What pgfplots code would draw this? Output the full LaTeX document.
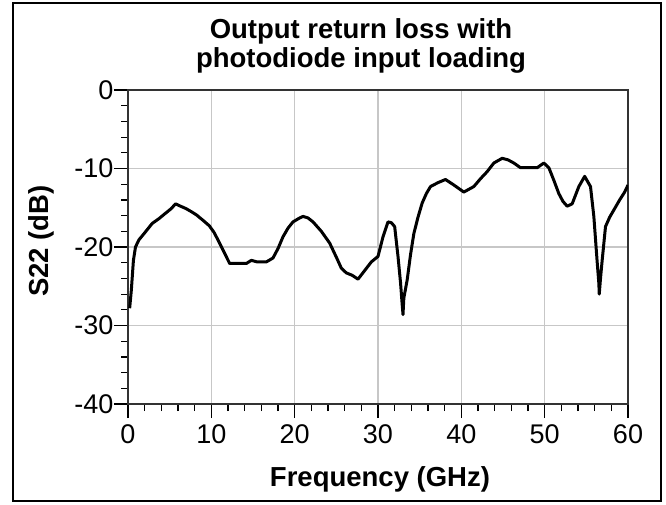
\documentclass[border=0pt]{standalone}
\usepackage{fontspec}
\setmainfont{Liberation Sans}
\usepackage{pgfplots}
\pgfplotsset{compat=1.18}

\pgfplotstableread{
f s22
0.2 -27.8
0.4 -25.5
0.65 -21.7
0.9 -20.0
1.3 -19.1
2.0 -18.2
2.9 -17.0
3.7 -16.4
4.5 -15.7
5.2 -15.1
5.7 -14.5
6.3 -14.8
6.95 -15.1
7.6 -15.5
8.2 -15.9
9.0 -16.6
9.76 -17.3
10.3 -18.1
10.8 -19.1
11.5 -20.6
12.2 -22.1
13.2 -22.1
14.2 -22.1
14.8 -21.7
15.5 -21.9
16.6 -21.9
17.4 -21.4
18.0 -20.2
18.6 -18.7
19.2 -17.6
19.8 -16.8
20.6 -16.3
21.0 -16.1
21.6 -16.3
22.2 -16.8
23.2 -18.0
24.2 -19.5
25.0 -21.3
25.6 -22.7
26.2 -23.3
26.9 -23.6
27.6 -24.1
28.4 -23.0
29.2 -21.9
30.0 -21.2
30.6 -18.7
31.2 -16.8
31.6 -16.9
32.0 -17.4
32.4 -21.2
32.7 -24.5
32.9 -27.3
33.0 -28.6
33.1 -26.5
33.5 -24.2
33.9 -21.0
34.3 -18.3
34.8 -16.2
35.3 -14.4
35.8 -13.2
36.3 -12.3
37.2 -11.8
38.1 -11.4
39.1 -12.1
40.3 -13.0
41.5 -12.3
42.3 -11.3
43.1 -10.4
43.9 -9.3
44.9 -8.7
45.6 -8.9
46.3 -9.3
47.1 -9.9
48.1 -9.9
49.1 -9.9
49.9 -9.3
50.5 -9.9
51.1 -11.5
51.7 -13.2
52.2 -14.2
52.7 -14.8
53.3 -14.5
54.1 -12.3
54.8 -11.0
55.5 -12.3
55.9 -16.1
56.3 -21.9
56.5 -24.6
56.55 -26.0
56.7 -24.0
56.9 -21.7
57.3 -17.4
57.8 -16.2
58.4 -15.1
59.0 -14.0
59.6 -13.0
60.0 -12.1
}\sparam

\begin{document}
\begin{tikzpicture}
\path (0pt,0pt) rectangle (666pt,504pt);
% outer frame
\draw[line width=2.5pt] (13pt,3pt) rectangle (661pt,501pt);
% title
\node[anchor=base, font=\fontsize{27.5}{27.5}\selectfont\bfseries] at (361pt,465pt) {Output return loss with};
\node[anchor=base, font=\fontsize{27.5}{27.5}\selectfont\bfseries] at (361pt,436pt) {photodiode input loading};

\begin{axis}[
    at={(128pt,100pt)}, anchor=south west,
    scale only axis,
    width=500pt, height=314pt,
    xmin=0, xmax=60, ymin=-40, ymax=0,
    xtick={0,10,...,60}, ytick={-40,-30,...,0},
    minor tick num=4,
    tick align=outside,
    xtick pos=bottom, ytick pos=left,
    major tick length=14pt, minor tick length=7pt,
    every tick/.style={black, line width=1.2pt},
    axis line style={draw=black!80, line width=1.3pt},
    grid=major,
    major grid style={draw=black!22, line width=1.5pt},
    /pgf/number format/assume math mode=true,
    ticklabel style={font=\fontsize{27}{27}\selectfont},
    yticklabel style={xshift=3pt},
    xticklabel style={yshift=-3pt},
    xlabel={\textbf{Frequency (GHz)}},
    ylabel={\textbf{S22 (dB)}},
    label style={font=\fontsize{27.5}{27.5}\selectfont},
    xlabel style={at={(axis description cs:0.504,-0.264)}, anchor=base},
    ylabel style={at={(axis description cs:-0.173,0.519)}, anchor=center, rotate=0},
]
\addplot[black, line width=3pt, line join=round] table[x=f, y=s22] {\sparam};
\end{axis}
\end{tikzpicture}
\end{document}
